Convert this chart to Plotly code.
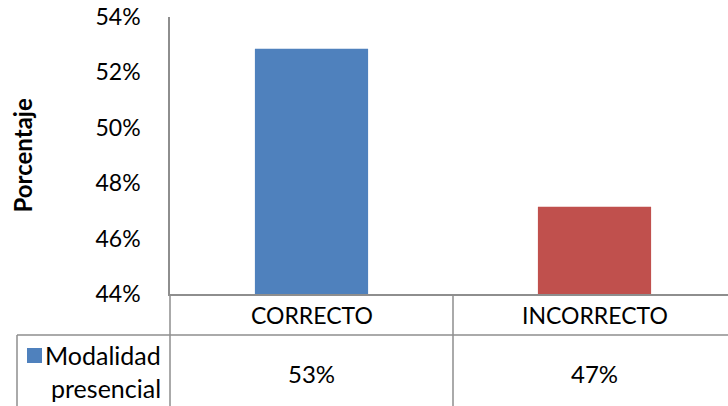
import plotly.graph_objects as go

# Data
categories = ["CORRECTO", "INCORRECTO"]
values = [0.5285, 0.4715]
series_name = "Modalidad presencial"
bar_colors = ["#4F81BD", "#C0504D"]
y_ticks = [0.44, 0.46, 0.48, 0.50, 0.52, 0.54]

W, H = 728, 406
L, R, T, B = 170, 728, 17, 294  # plot-area pixel box
FONT = "Lato, Calibri, Carlito, sans-serif"
GRID = "#8E8E8E"


def px(x):
    return (x - L) / (R - L)


def py(y):
    return (B - y) / (B - T)


fig = go.Figure(
    go.Bar(
        x=categories,
        y=values,
        marker=dict(color=bar_colors, line=dict(width=0)),
        width=0.4,
        name=series_name,
        showlegend=False,
    )
)

shapes = []
line = dict(color=GRID, width=1.5)
# data-table grid below the plot
shapes.append(dict(type="line", xref="paper", yref="paper", x0=0, x1=0, y0=0, y1=py(H + 5), line=line))
shapes.append(dict(type="line", xref="x", yref="paper", x0=0.5, x1=0.5, y0=0, y1=py(H + 5), line=line))
shapes.append(dict(type="line", xref="paper", yref="paper", x0=px(17), x1=1, y0=py(335), y1=py(335), line=line))
shapes.append(dict(type="line", xref="paper", yref="paper", x0=px(17), x1=px(17), y0=py(335), y1=py(H + 5), line=line))
# legend key
shapes.append(dict(type="rect", xref="paper", yref="paper", x0=px(27), x1=px(42), y0=py(363), y1=py(348),
                   fillcolor=bar_colors[0], line=dict(width=0)))

annotations = []
for c, v in zip(categories, values):
    annotations.append(dict(x=c, xref="x", y=py(315), yref="paper", text=c, showarrow=False,
                            font=dict(size=23, color="#000000", family=FONT), yanchor="middle"))
    annotations.append(dict(x=c, xref="x", y=py(373), yref="paper", text=f"{v:.0%}", showarrow=False,
                            font=dict(size=24, color="#000000", family=FONT), yanchor="middle"))
words = series_name.split(" ")
annotations.append(dict(x=px(163), xref="paper", y=py(355), yref="paper", text=words[0], showarrow=False,
                        xanchor="right", yanchor="middle", font=dict(size=25, color="#000000", family=FONT)))
annotations.append(dict(x=px(163), xref="paper", y=py(388), yref="paper", text=words[1], showarrow=False,
                        xanchor="right", yanchor="middle", font=dict(size=25, color="#000000", family=FONT)))
annotations.append(dict(x=px(22), xref="paper", y=0.5, yref="paper", text="<b>Porcentaje</b>", showarrow=False,
                        textangle=-90, xanchor="center", yanchor="middle",
                        font=dict(size=24, color="#000000", family=FONT)))

fig.update_layout(
    width=W,
    height=H,
    autosize=False,
    margin=dict(l=L, r=W - R, t=T, b=H - B, pad=0),
    paper_bgcolor="#FFFFFF",
    plot_bgcolor="#FFFFFF",
    font=dict(family=FONT, size=23, color="#000000"),
    shapes=shapes,
    annotations=annotations,
    xaxis=dict(
        range=[-0.5, 1.5 - 8 / 283],
        showline=True,
        linecolor=GRID,
        linewidth=1.5,
        showticklabels=False,
        ticks="",
        showgrid=False,
        zeroline=False,
    ),
    yaxis=dict(
        range=[0.44, 0.54],
        tickvals=y_ticks,
        tickformat=".0%",
        showline=True,
        linecolor=GRID,
        linewidth=1.5,
        ticks="",
        ticklabelstandoff=23,
        showgrid=False,
        zeroline=False,
        tickfont=dict(size=23, color="#000000", family=FONT),
    ),
)

fig.write_html("out.html")
